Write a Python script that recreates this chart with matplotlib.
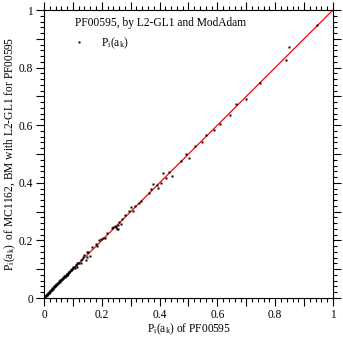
import matplotlib
matplotlib.use('Agg')
import matplotlib.pyplot as plt
from matplotlib.ticker import MultipleLocator, FuncFormatter

# P_i(a_k) of PF00595 (x) vs P_i(a_k) of MC1162 (y)
p_nat = [0.003, 0.005, 0.006, 0.008, 0.010, 0.012, 0.013, 0.015, 0.017, 0.018,
         0.020, 0.022, 0.023, 0.025, 0.027, 0.029, 0.030, 0.032, 0.034, 0.035,
         0.037, 0.039, 0.040, 0.042, 0.044, 0.046, 0.048, 0.050, 0.052, 0.054,
         0.056, 0.058, 0.060, 0.062, 0.063, 0.065, 0.067, 0.069, 0.071, 0.073,
         0.075, 0.077, 0.078, 0.080, 0.081, 0.083, 0.086, 0.088, 0.090, 0.092,
         0.095, 0.098, 0.100, 0.104, 0.106, 0.110, 0.112, 0.115, 0.115, 0.118,
         0.122, 0.127, 0.129, 0.133, 0.136, 0.138, 0.147, 0.148, 0.150, 0.153,
         0.159, 0.167, 0.179, 0.184, 0.190, 0.197, 0.205, 0.212, 0.219, 0.236,
         0.238, 0.245, 0.248, 0.249, 0.254, 0.256, 0.256, 0.261, 0.268, 0.270,
         0.281, 0.295, 0.300, 0.309, 0.316, 0.329, 0.337, 0.362, 0.369, 0.378,
         0.390, 0.396, 0.404, 0.413, 0.421, 0.433, 0.443, 0.473, 0.491, 0.502,
         0.522, 0.548, 0.561, 0.589, 0.610, 0.644, 0.663, 0.699, 0.747, 0.836,
         0.849, 0.944,
         0.009, 0.016, 0.021, 0.026, 0.033, 0.038, 0.043, 0.047, 0.053, 0.057,
         0.061, 0.066, 0.070, 0.074, 0.079, 0.084, 0.087, 0.093, 0.097, 0.102]
p_mc = [0.004, 0.006, 0.008, 0.010, 0.011, 0.014, 0.015, 0.017, 0.019, 0.022,
        0.022, 0.024, 0.028, 0.027, 0.030, 0.034, 0.033, 0.036, 0.038, 0.040,
        0.040, 0.042, 0.045, 0.044, 0.048, 0.050, 0.051, 0.053, 0.057, 0.056,
        0.060, 0.061, 0.063, 0.065, 0.066, 0.068, 0.069, 0.074, 0.072, 0.076,
        0.080, 0.078, 0.081, 0.085, 0.079, 0.083, 0.092, 0.090, 0.093, 0.097,
        0.096, 0.100, 0.103, 0.109, 0.104, 0.115, 0.113, 0.123, 0.106, 0.121,
        0.123, 0.132, 0.123, 0.137, 0.143, 0.149, 0.132, 0.141, 0.161, 0.161,
        0.146, 0.178, 0.188, 0.181, 0.201, 0.205, 0.207, 0.210, 0.225, 0.242,
        0.245, 0.250, 0.248, 0.245, 0.240, 0.255, 0.240, 0.265, 0.257, 0.273,
        0.289, 0.302, 0.315, 0.301, 0.319, 0.329, 0.337, 0.365, 0.378, 0.395,
        0.394, 0.383, 0.398, 0.434, 0.417, 0.438, 0.425, 0.476, 0.500, 0.487,
        0.528, 0.543, 0.566, 0.583, 0.605, 0.635, 0.673, 0.691, 0.745, 0.826,
        0.870, 0.948,
        0.012, 0.018, 0.025, 0.029, 0.038, 0.041, 0.047, 0.052, 0.058, 0.061,
        0.066, 0.070, 0.075, 0.077, 0.084, 0.088, 0.091, 0.096, 0.102, 0.106]

diag = [0, 1]
labeled_ticks = [0, 0.2, 0.4, 0.6, 0.8, 1]

plt.rcParams['font.family'] = 'Liberation Serif'
plt.rcParams['mathtext.fontset'] = 'custom'
plt.rcParams['mathtext.rm'] = 'Liberation Serif'
plt.rcParams['mathtext.it'] = 'Liberation Serif'
plt.rcParams['font.size'] = 8.3

fig = plt.figure(figsize=(3.43, 3.37), dpi=100)
ax = fig.add_axes([0.1283, 0.1157, 0.8425, 0.8546])

ax.plot(diag, diag, color='red', lw=0.9, zorder=1)
ax.plot(p_nat, p_mc, ls='none', marker='s', ms=1.6, mec='none', mfc='black',
        label=r'P$_{\mathrm{i}}$(a$_{\mathrm{k}}$)', zorder=2)

ax.set_xlim(0, 1)
ax.set_ylim(0, 1)

def fmt(v, pos):
    for t in labeled_ticks:
        if abs(v - t) < 1e-6:
            return '%g' % t
    return ''

for axis in (ax.xaxis, ax.yaxis):
    axis.set_major_locator(MultipleLocator(0.1))
    axis.set_minor_locator(MultipleLocator(0.02))
    axis.set_major_formatter(FuncFormatter(fmt))

ax.tick_params(which='both', direction='out', top=True, right=True,
               width=0.8, colors='black', labelsize=8.3, pad=2)
ax.tick_params(which='major', length=6)
ax.tick_params(which='minor', length=3)
for s in ax.spines.values():
    s.set_linewidth(0.8)

ax.set_xlabel(r'P$_{\mathrm{i}}$(a$_{\mathrm{k}}$) of PF00595', labelpad=0.5)
ax.set_ylabel(r'P$_{\mathrm{i}}$(a$_{\mathrm{k}}$)  of MC1162, BM with L2-GL1 for PF00595',
              labelpad=0.5)

leg = ax.legend(title='PF00595, by L2-GL1 and ModAdam', loc='upper left',
                bbox_to_anchor=(0.1, 0.985), frameon=False, alignment='left',
                handlelength=0.6, handletextpad=1.6, labelspacing=0.2,
                borderaxespad=0, borderpad=0.2, title_fontsize=8.3, fontsize=8.3)
leg._legend_box.sep = 5

fig.savefig('out.png', dpi=100)
